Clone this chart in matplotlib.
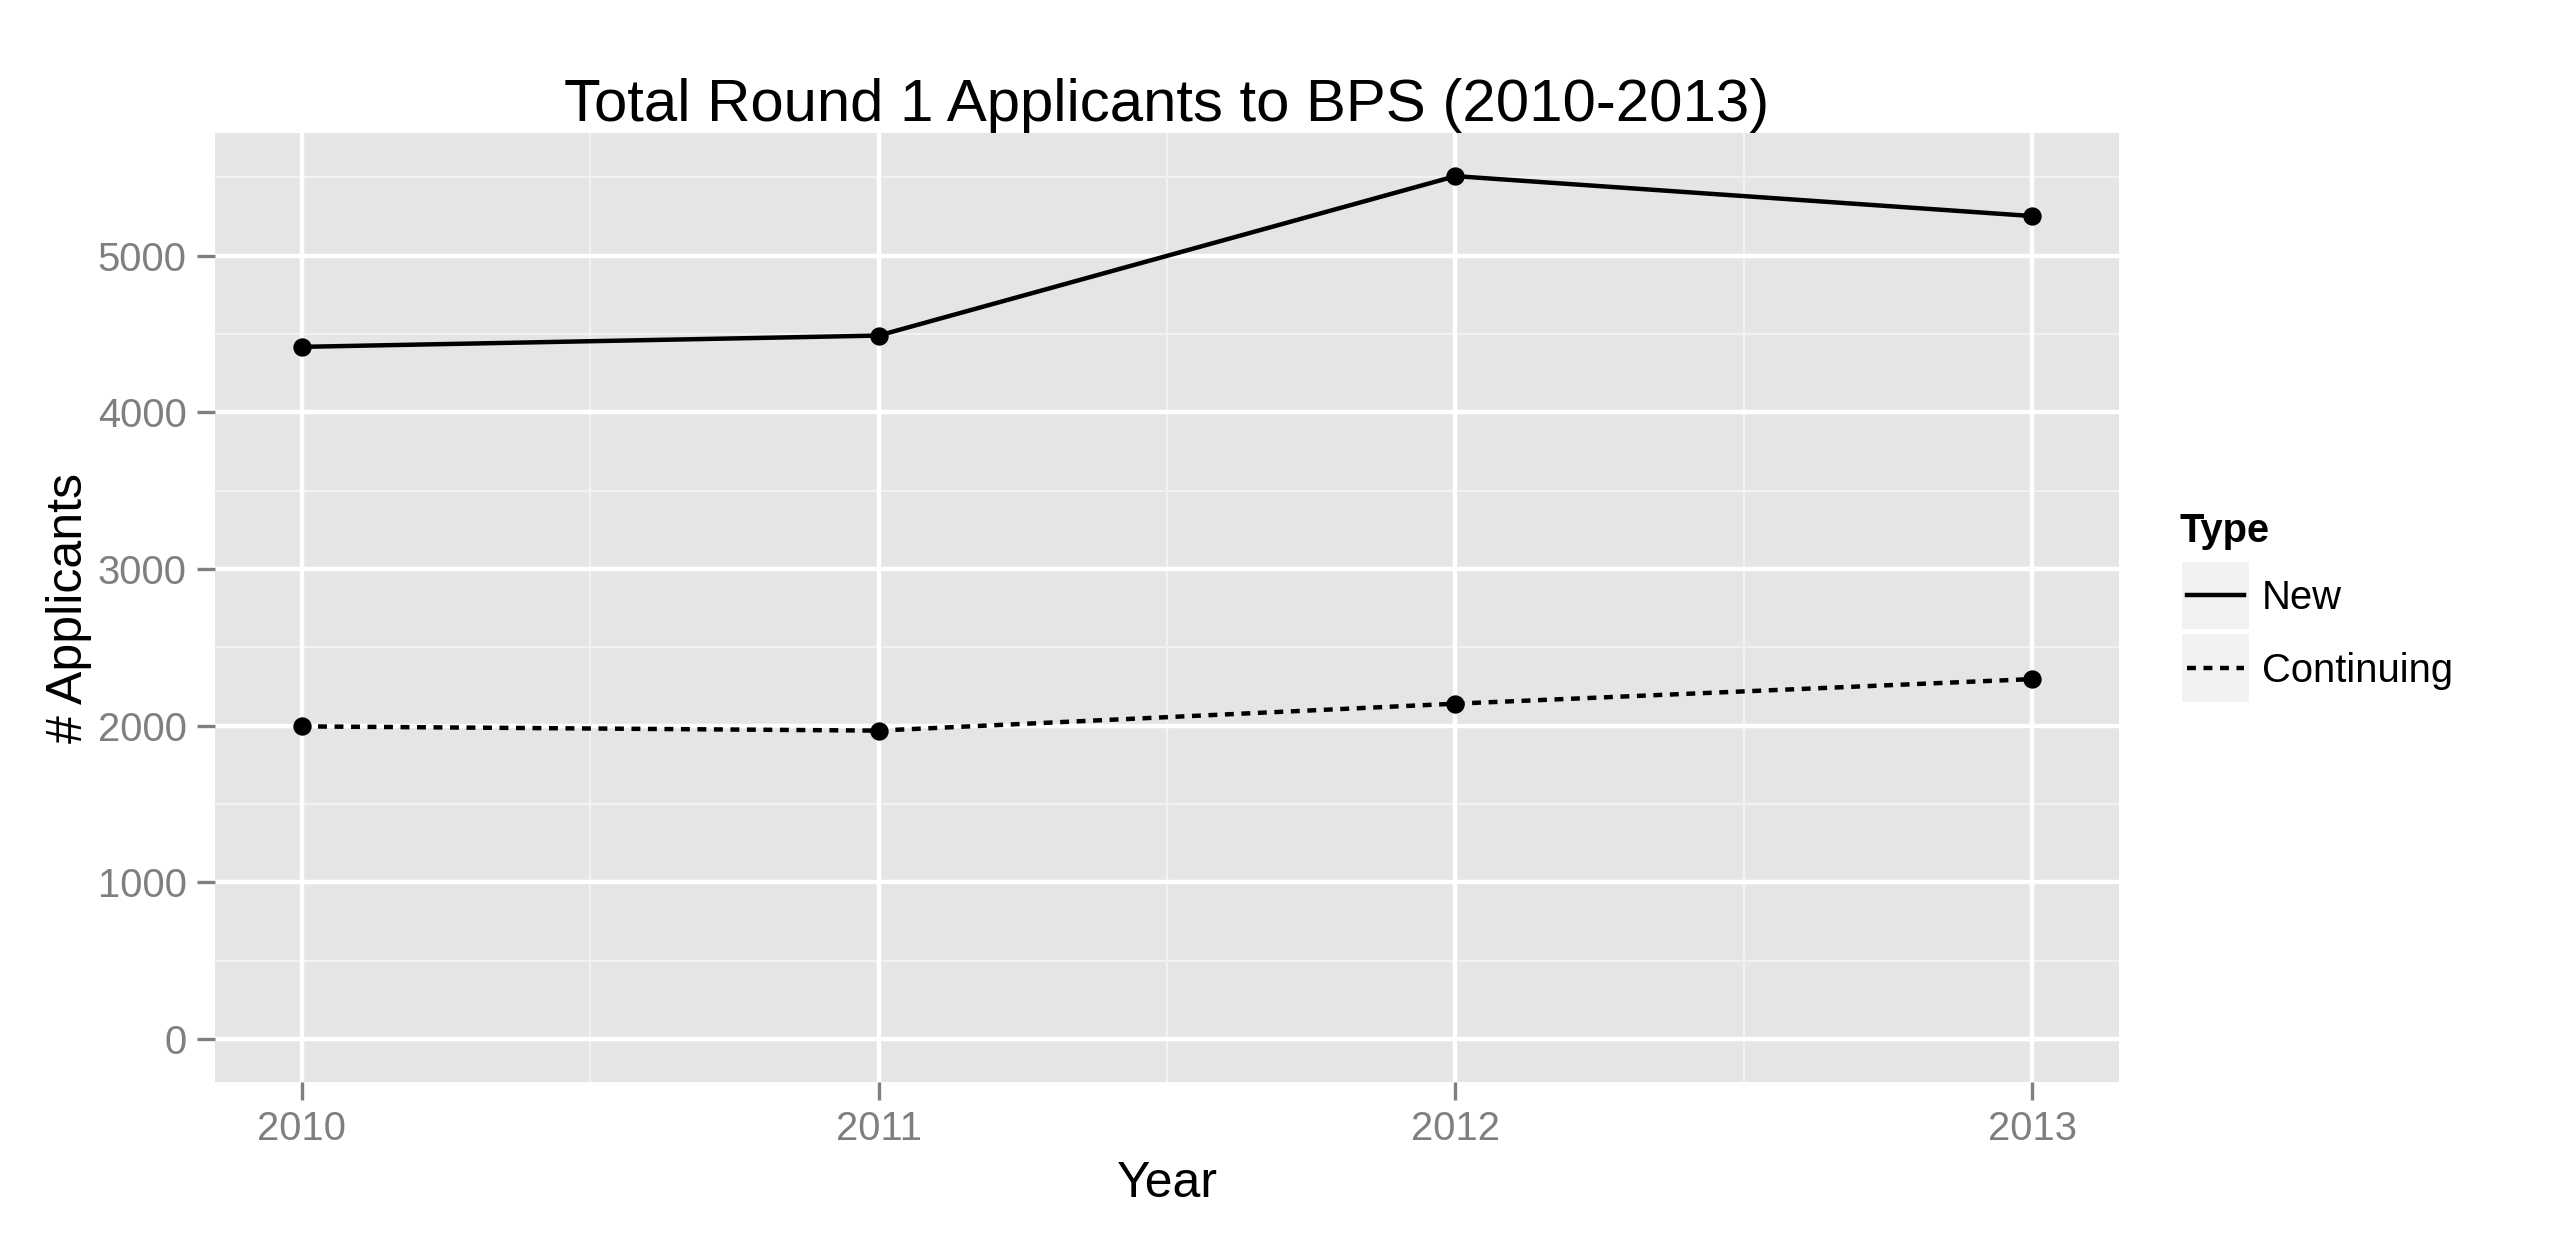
import matplotlib
matplotlib.use("Agg")
import matplotlib.pyplot as plt
from matplotlib.patches import Rectangle
from matplotlib.lines import Line2D

# values
years = [2010, 2011, 2012, 2013]
new_apps = [4418, 4490, 5508, 5253]
cont_apps = [1995, 1968, 2140, 2297]
series_names = ["New", "Continuing"]

y_ticks = [0, 1000, 2000, 3000, 4000, 5000]
y_minor = [500, 1500, 2500, 3500, 4500, 5500]
x_minor = [2010.5, 2011.5, 2012.5]

plt.rcParams["font.family"] = ["Liberation Sans", "DejaVu Sans"]

DPI = 300
fig = plt.figure(figsize=(2570 / DPI, 1241 / DPI), dpi=DPI, facecolor="white")
ax = fig.add_axes([215 / 2570, 1 - 1082 / 1241, (2119 - 215) / 2570, (1082 - 133) / 1241])
ax.set_facecolor("#E5E5E5")

# ggplot-like grid
for v in y_minor:
    ax.axhline(v, color="#F2F2F2", lw=0.55, zorder=1)
for v in x_minor:
    ax.axvline(v, color="#F2F2F2", lw=0.55, zorder=1)
for v in y_ticks:
    ax.axhline(v, color="white", lw=1.07, zorder=1)
for v in years:
    ax.axvline(v, color="white", lw=1.07, zorder=1)

ax.plot(years, new_apps, color="black", lw=1.07, solid_capstyle="butt", zorder=3)
ax.plot(years, cont_apps, color="black", lw=1.07, dashes=(2, 1.7), zorder=3)
ax.plot(years, new_apps, "o", color="black", ms=3.4, zorder=4)
ax.plot(years, cont_apps, "o", color="black", ms=3.4, zorder=4)

# 5% expansion like ggplot
ymax = max(new_apps)
ax.set_ylim(-0.05 * ymax, ymax * 1.05)
ax.set_xlim(years[0] - 0.15, years[-1] + 0.15)

ax.set_xticks(years)
ax.set_xticklabels([str(y) for y in years])
ax.set_yticks(y_ticks)
ax.tick_params(axis="both", colors="#7F7F7F", length=4.25, width=0.8,
               labelsize=9.6, labelcolor="#7F7F7F", pad=2.5)
for s in ax.spines.values():
    s.set_visible(False)

ax.set_title("Total Round 1 Applicants to BPS (2010-2013)", fontsize=14.4, pad=3)
ax.set_xlabel("Year", fontsize=12, labelpad=3)
ax.set_ylabel("# Applicants", fontsize=12, labelpad=1.3)

# legend drawn by hand (ggplot style keys)
W, H = 2570, 1241
fig.text(2180 / W, 1 - 542 / H, "Type", fontsize=9.6, fontweight="bold", va="baseline")
styles = [dict(), dict(dashes=(2, 1.7))]
rows = [(562, 629), (634, 702)]
for name, st, (top, bot) in zip(series_names, styles, rows):
    fig.patches.append(Rectangle((2182 / W, 1 - bot / H), 67 / W, (bot - top) / H,
                                 transform=fig.transFigure, facecolor="#F2F2F2",
                                 edgecolor="none"))
    yc = 1 - (top + bot) / 2 / H
    fig.lines.append(Line2D([2187 / W, 2244 / W], [yc, yc], transform=fig.transFigure,
                            color="black", lw=1.07, **st))
    fig.text(2262 / W, yc - 3 / H, name, fontsize=9.6, va="center")

fig.savefig("out.png", dpi=DPI, facecolor="white")
